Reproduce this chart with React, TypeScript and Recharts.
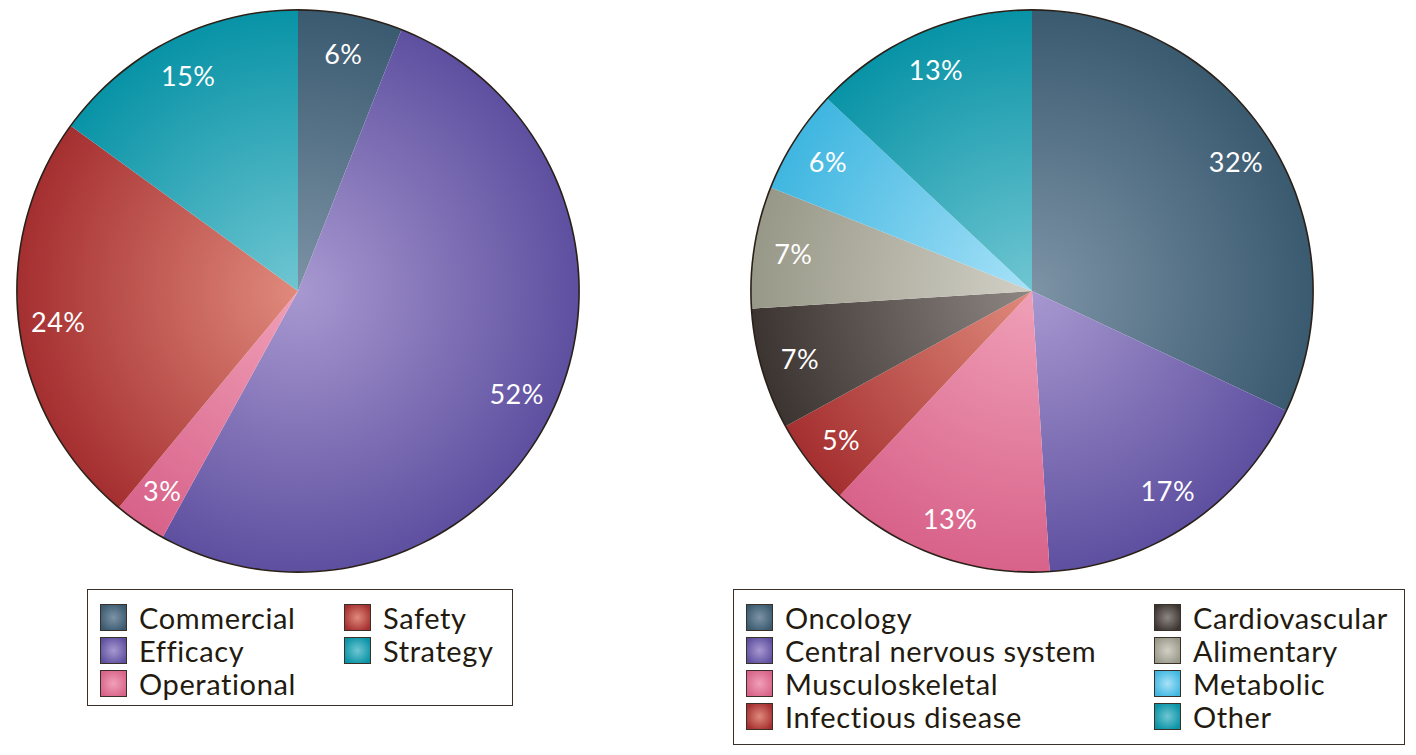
import React from "react";
import { PieChart, Pie, Cell } from "recharts";

const leftCategories = ["Commercial", "Efficacy", "Operational", "Safety", "Strategy"];
const leftValues = [6, 52, 3, 24, 15];
const leftLabels = ["6%", "52%", "3%", "24%", "15%"];

const rightCategories = [
  "Oncology",
  "Central nervous system",
  "Musculoskeletal",
  "Infectious disease",
  "Cardiovascular",
  "Alimentary",
  "Metabolic",
  "Other",
];
const rightValues = [32, 17, 13, 5, 7, 7, 6, 13];
const rightLabels = ["32%", "17%", "13%", "5%", "7%", "7%", "6%", "13%"];

const palette: Record<string, [string, string]> = {
  Commercial: ["#7d93a6", "#3a5a70"],
  Oncology: ["#7d93a6", "#3a5a70"],
  Efficacy: ["#a898d0", "#5e50a0"],
  "Central nervous system": ["#a898d0", "#5e50a0"],
  Operational: ["#f0a0b8", "#d8628a"],
  Musculoskeletal: ["#f0a0b8", "#d8628a"],
  Safety: ["#e08a7c", "#a52f30"],
  "Infectious disease": ["#e08a7c", "#a52f30"],
  Strategy: ["#70c6d2", "#0893a6"],
  Other: ["#70c6d2", "#0893a6"],
  Cardiovascular: ["#8e8682", "#3b3430"],
  Alimentary: ["#d2d0c6", "#989888"],
  Metabolic: ["#a8e2f8", "#3fb6e0"],
};

const W = 1400;
const H = 580;
const R = 281;
const LCX = 290;
const RCX = 1024;
const CY = 283;
const FONT = "Lato, 'Open Sans', sans-serif";
const TEXT = "#231a10";

const idOf = (p: string, name: string) => p + "-" + name.replace(/\s+/g, "_");

const makeLabel = (labels: string[]) => (props: any) => {
  const RAD = Math.PI / 180;
  const { cx, cy, midAngle, outerRadius, index } = props;
  const r = outerRadius * 0.86;
  const x = cx + r * Math.cos(-midAngle * RAD);
  const y = cy + r * Math.sin(-midAngle * RAD);
  return (
    <text
      x={x}
      y={y}
      fill="#ffffff"
      textAnchor="middle"
      dominantBaseline="central"
      fontFamily={FONT}
      fontSize={27}
      fontWeight={400}
      letterSpacing={0.5}
    >
      {labels[index]}
    </text>
  );
};

const Swatch = ({ name }: { name: string }) => {
  const [c0, c1] = palette[name];
  return (
    <div
      style={{
        width: 25,
        height: 25,
        border: "1px solid #3a3028",
        background: `radial-gradient(circle, ${c0} 0%, ${c1} 85%)`,
        flex: "0 0 auto",
      }}
    />
  );
};

const LegendItem = ({ name }: { name: string }) => (
  <div style={{ display: "flex", alignItems: "center", height: 33 }}>
    <Swatch name={name} />
    <span
      style={{
        marginLeft: 12,
        fontSize: 29,
        letterSpacing: 0.6,
        fontWeight: 400,
        color: TEXT,
        fontFamily: FONT,
        lineHeight: "33px",
        whiteSpace: "nowrap",
      }}
    >
      {name}
    </span>
  </div>
);

export default function App() {
  const leftData = leftCategories.map((c, i) => ({ name: c, value: leftValues[i] }));
  const rightData = rightCategories.map((c, i) => ({ name: c, value: rightValues[i] }));
  const ring = [{ value: 1 }];
  return (
    <div style={{ position: "relative", width: W, height: 739, fontFamily: FONT }}>
      <PieChart width={W} height={H} margin={{ top: 0, right: 0, bottom: 0, left: 0 }}>
        <defs>
          {leftCategories.map((c) => (
            <radialGradient
              key={c}
              id={idOf("L", c)}
              gradientUnits="userSpaceOnUse"
              cx={LCX}
              cy={CY}
              r={R}
            >
              <stop offset="0%" stopColor={palette[c][0]} />
              <stop offset="100%" stopColor={palette[c][1]} />
            </radialGradient>
          ))}
          {rightCategories.map((c) => (
            <radialGradient
              key={c}
              id={idOf("R", c)}
              gradientUnits="userSpaceOnUse"
              cx={RCX}
              cy={CY}
              r={R}
            >
              <stop offset="0%" stopColor={palette[c][0]} />
              <stop offset="100%" stopColor={palette[c][1]} />
            </radialGradient>
          ))}
        </defs>
        <Pie
          data={leftData}
          dataKey="value"
          cx={LCX}
          cy={CY}
          outerRadius={R}
          startAngle={90}
          endAngle={-270}
          stroke="none"
          label={makeLabel(leftLabels)}
          labelLine={false}
          isAnimationActive={false}
        >
          {leftData.map((d) => (
            <Cell key={d.name} fill={`url(#${idOf("L", d.name)})`} />
          ))}
        </Pie>
        <Pie
          data={ring}
          dataKey="value"
          cx={LCX}
          cy={CY}
          innerRadius={R - 0.7}
          outerRadius={R + 0.9}
          fill="#2a2018"
          stroke="none"
          isAnimationActive={false}
        />
        <Pie
          data={rightData}
          dataKey="value"
          cx={RCX}
          cy={CY}
          outerRadius={R}
          startAngle={90}
          endAngle={-270}
          stroke="none"
          label={makeLabel(rightLabels)}
          labelLine={false}
          isAnimationActive={false}
        >
          {rightData.map((d) => (
            <Cell key={d.name} fill={`url(#${idOf("R", d.name)})`} />
          ))}
        </Pie>
        <Pie
          data={ring}
          dataKey="value"
          cx={RCX}
          cy={CY}
          innerRadius={R - 0.7}
          outerRadius={R + 0.9}
          fill="#2a2018"
          stroke="none"
          isAnimationActive={false}
        />
      </PieChart>

      <div
        style={{
          position: "absolute",
          left: 79,
          top: 581,
          width: 426,
          height: 117,
          border: "1.5px solid #3a3028",
          boxSizing: "border-box",
        }}
      >
        <div style={{ position: "absolute", left: 12, top: 11 }}>
          {["Commercial", "Efficacy", "Operational"].map((n) => (
            <LegendItem key={n} name={n} />
          ))}
        </div>
        <div style={{ position: "absolute", left: 256, top: 11 }}>
          {["Safety", "Strategy"].map((n) => (
            <LegendItem key={n} name={n} />
          ))}
        </div>
      </div>

      <div
        style={{
          position: "absolute",
          left: 725,
          top: 581,
          width: 672,
          height: 156,
          border: "1.5px solid #3a3028",
          boxSizing: "border-box",
        }}
      >
        <div style={{ position: "absolute", left: 12, top: 11 }}>
          {rightCategories.slice(0, 4).map((n) => (
            <LegendItem key={n} name={n} />
          ))}
        </div>
        <div style={{ position: "absolute", left: 420, top: 11 }}>
          {rightCategories.slice(4).map((n) => (
            <LegendItem key={n} name={n} />
          ))}
        </div>
      </div>
    </div>
  );
}
